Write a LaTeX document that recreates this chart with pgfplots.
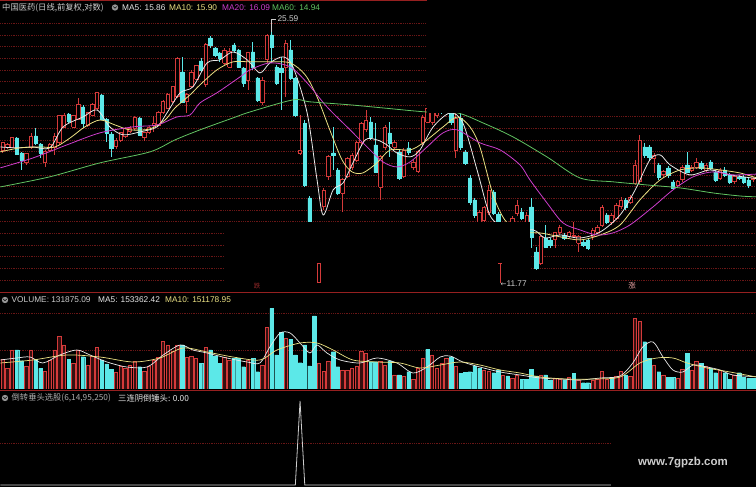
\documentclass[border=0pt]{standalone}
\usepackage{fontspec}
\setmainfont{Liberation Sans}
\newfontfamily\cjk{Noto Sans CJK SC}
\newfontfamily\dejavu{DejaVu Sans}
\usepackage{pgfplots}
\usepackage{pgfplotstable}
\pgfplotsset{compat=1.18}

\definecolor{upred}{RGB}{212,58,58}
\definecolor{downcyan}{RGB}{92,232,232}
\definecolor{mafive}{RGB}{232,232,232}
\definecolor{maten}{RGB}{236,226,132}
\definecolor{matwenty}{RGB}{205,62,205}
\definecolor{masixty}{RGB}{98,196,98}
\definecolor{gridred}{RGB}{105,22,22}
\definecolor{sepred}{RGB}{150,32,32}
\definecolor{ttlgray}{RGB}{205,205,205}
\definecolor{icongray}{RGB}{150,150,150}

\newcommand\tsz{\fontsize{8.3}{10}\selectfont}

% daily bars: open, high, low, close
\pgfplotstableread{
i o h l c
0 17.41 17.87 17.24 17.82
1 17.58 17.82 17.47 17.70
2 17.58 18.17 17.53 18.11
3 18.11 18.17 17.13 17.19
4 17.24 17.30 16.31 16.85
5 16.69 17.24 16.58 17.19
6 17.53 18.41 17.47 18.17
7 18.23 18.71 17.70 17.82
8 17.76 17.82 16.96 17.24
9 16.74 17.41 16.47 17.30
10 17.41 17.82 17.30 17.70
11 17.58 18.41 17.13 18.17
12 17.82 19.52 17.70 19.46
13 18.77 19.65 18.71 19.52
14 19.58 19.65 19.01 19.14
15 18.77 19.52 18.71 19.46
16 19.26 20.64 19.20 20.17
17 20.04 20.17 18.71 19.01
18 18.89 19.71 18.77 19.65
19 19.52 20.30 19.46 20.17
20 19.97 21.05 19.84 20.98
21 20.84 20.91 19.20 19.26
22 19.26 19.33 17.87 18.41
23 18.35 18.47 17.02 17.53
24 17.64 18.11 17.47 17.99
25 17.99 18.47 17.87 18.41
26 18.17 18.77 18.11 18.71
27 18.47 18.83 18.41 18.71
28 18.71 19.46 18.59 19.39
29 19.33 19.39 18.23 18.29
30 18.11 18.47 17.93 18.41
31 18.41 18.83 18.35 18.77
32 18.89 19.46 18.47 19.01
33 18.89 19.78 18.83 19.71
34 19.65 20.50 19.58 20.37
35 19.97 20.98 19.91 20.84
36 20.37 21.46 20.30 21.39
37 20.71 23.59 20.64 23.51
38 22.46 23.59 20.30 20.37
39 20.37 20.98 19.65 20.84
40 21.39 22.61 21.32 22.46
41 21.95 22.98 21.88 22.91
42 23.28 23.51 22.46 22.61
43 21.53 24.69 21.39 24.53
44 25.09 25.26 24.29 24.53
45 24.29 24.37 23.59 23.74
46 23.90 23.97 23.21 23.51
47 23.13 24.29 22.98 24.13
48 22.83 24.29 22.76 24.05
49 24.53 24.69 23.97 24.13
50 24.13 24.21 22.76 22.83
51 22.76 22.83 21.39 21.67
52 21.88 23.97 21.18 23.90
53 23.97 24.77 22.61 22.83
54 22.03 22.10 20.37 20.50
55 20.30 22.10 20.17 21.88
56 23.36 25.42 23.13 25.34
57 25.34 25.59 23.13 24.37
58 22.83 22.98 21.53 21.67
59 22.76 23.59 19.84 22.46
60 22.83 24.93 20.71 24.69
61 24.13 24.93 21.88 22.03
62 22.03 22.10 19.39 19.52
63 17.24 19.52 17.13 17.41
64 19.01 19.20 15.43 15.53
65 14.89 14.98 13.63 13.76
66 13.50 13.59 12.56 12.77
67 12.77 13.41 12.56 13.32
68 14.46 15.38 14.31 15.28
69 15.95 17.13 15.79 17.02
70 17.24 18.77 16.31 17.13
71 16.31 16.42 15.03 15.13
72 15.13 15.89 14.22 15.79
73 15.95 17.02 15.89 16.96
74 16.47 17.24 16.31 17.13
75 16.85 17.93 16.74 17.82
76 17.82 19.08 17.70 19.01
77 18.59 19.84 18.47 19.20
78 19.08 19.39 17.99 18.17
79 17.70 19.01 16.15 16.21
80 15.43 17.13 14.79 17.02
81 17.53 18.89 17.41 18.77
82 18.41 19.08 17.02 17.82
83 17.58 17.99 17.41 17.82
84 17.30 17.41 15.79 15.89
85 15.95 17.53 15.89 17.41
86 17.53 17.87 17.13 17.30
87 16.42 16.85 16.31 16.74
88 16.21 17.41 16.15 17.30
89 17.82 19.52 17.70 19.39
90 19.08 20.17 19.01 19.97
91 19.08 19.84 18.89 19.65
92 19.52 20.50 19.33 20.17
93 20.37 20.64 19.58 19.71
94 19.84 20.77 19.65 20.50
95 19.71 19.97 18.89 19.08
96 17.41 19.65 16.96 19.33
97 19.33 19.65 17.41 17.58
98 17.30 17.41 16.58 16.69
99 15.89 16.05 14.55 14.69
100 14.79 14.89 13.94 14.08
101 13.76 14.31 13.67 14.22
102 13.85 14.50 13.76 14.41
103 14.22 15.53 14.08 15.28
104 15.18 15.28 14.08 14.17
105 14.13 14.22 13.41 13.50
106 13.59 13.67 12.98 13.06
107 13.15 13.59 13.06 13.50
108 13.59 14.03 13.50 13.94
109 14.17 14.79 14.03 14.55
110 14.22 14.41 13.85 13.94
111 13.76 14.22 13.63 14.08
112 14.46 14.89 12.64 13.11
113 12.48 12.69 11.77 11.85
114 12.04 13.19 11.96 13.11
115 13.06 13.63 12.64 12.69
116 12.98 13.06 12.64 12.77
117 12.98 13.32 12.64 13.28
118 13.32 13.63 13.19 13.54
119 13.19 13.28 12.98 13.06
120 13.11 13.37 13.06 13.28
121 13.11 13.76 13.06 13.19
122 12.85 13.19 12.48 13.11
123 12.90 12.98 12.69 12.77
124 12.98 13.06 12.56 12.64
125 13.11 13.50 12.98 13.41
126 13.32 13.63 13.23 13.54
127 13.63 14.55 13.54 14.41
128 14.08 14.17 13.67 13.76
129 13.76 14.17 13.63 14.08
130 13.94 14.65 13.85 14.55
131 14.46 14.93 14.36 14.79
132 14.79 14.89 14.31 14.46
133 14.69 15.03 14.60 14.93
134 15.63 16.85 15.53 16.58
135 15.69 18.29 15.58 17.99
136 17.58 17.82 16.96 17.13
137 17.58 17.70 16.85 17.02
138 16.96 17.24 16.15 17.13
139 16.58 16.69 15.79 15.95
140 16.05 16.31 15.89 16.21
141 16.42 16.53 15.89 16.05
142 15.69 15.79 15.28 15.38
143 15.53 15.79 15.38 15.69
144 15.79 16.58 15.69 16.47
145 16.58 17.30 16.15 16.21
146 16.31 16.58 16.21 16.47
147 16.47 16.96 16.36 16.74
148 16.69 16.80 16.31 16.42
149 16.31 16.69 16.21 16.58
150 16.74 16.85 16.31 16.42
151 16.21 16.31 15.69 15.79
152 15.89 16.42 15.79 16.31
153 16.31 16.47 15.95 16.05
154 16.05 16.15 15.58 15.69
155 15.69 16.05 15.58 15.95
156 15.95 16.05 15.79 15.89
157 15.95 16.05 15.58 15.69
158 15.79 15.89 15.38 15.53
159 15.79 15.95 15.69 15.89
}\candles

% daily volume, u = 1 for a rising day
\pgfplotstableread{
i v u
0 371000 1
1 259000 1
2 488000 1
3 488000 0
4 354000 0
5 279000 1
6 488000 1
7 371000 0
8 259000 0
9 216000 1
10 363000 1
11 488000 1
12 654000 1
13 550000 1
14 371000 0
15 321000 1
16 488000 1
17 404000 0
18 300000 1
19 404000 1
20 521000 1
21 363000 0
22 313000 0
23 246000 0
24 204000 1
25 279000 1
26 259000 1
27 300000 1
28 341000 1
29 279000 0
30 216000 1
31 279000 1
32 363000 1
33 396000 1
34 591000 1
35 550000 1
36 466000 1
37 550000 1
38 550000 0
39 396000 1
40 404000 1
41 384000 1
42 321000 0
43 521000 1
44 488000 0
45 413000 0
46 321000 0
47 396000 1
48 354000 1
49 384000 0
50 384000 0
51 279000 0
52 363000 1
53 384000 0
54 216000 0
55 300000 1
56 771000 1
57 1009000 0
58 425000 0
59 709000 0
60 634000 1
61 621000 0
62 425000 0
63 329000 0
64 550000 0
65 288000 0
66 913000 0
67 321000 1
68 216000 1
69 341000 1
70 466000 0
71 279000 0
72 238000 1
73 238000 1
74 259000 1
75 279000 1
76 466000 1
77 446000 1
78 341000 0
79 341000 0
80 341000 1
81 300000 1
82 350000 0
83 175000 1
84 175000 0
85 163000 1
86 216000 0
87 121000 1
88 259000 1
89 384000 1
90 496000 0
91 425000 1
92 259000 1
93 321000 1
94 384000 1
95 404000 0
96 279000 1
97 196000 0
98 209000 0
99 216000 0
100 288000 0
101 259000 0
102 238000 1
103 216000 1
104 204000 0
105 238000 0
106 175000 1
107 163000 0
108 134000 1
109 175000 1
110 121000 0
111 121000 0
112 246000 0
113 163000 0
114 175000 1
115 175000 0
116 113000 0
117 134000 1
118 121000 1
119 113000 0
120 146000 1
121 196000 0
122 104000 1
123 79000 0
124 79000 0
125 113000 1
126 121000 1
127 216000 1
128 121000 1
129 146000 0
130 163000 1
131 216000 1
132 175000 0
133 154000 1
134 884000 1
135 841000 1
136 591000 0
137 384000 0
138 300000 1
139 216000 0
140 175000 1
141 146000 0
142 146000 0
143 134000 1
144 246000 1
145 446000 0
146 238000 1
147 341000 1
148 321000 0
149 279000 1
150 259000 0
151 204000 0
152 238000 1
153 204000 0
154 121000 0
155 175000 1
156 204000 0
157 146000 0
158 134000 0
159 131875 0
}\volumes

\pgfplotsset{
  panel/.style={anchor=south west, scale only axis, width=756pt,
    xmin=-0.57, xmax=159.6, hide axis, clip=true, no markers},
  candleup wick/.style={upred, line width=0.8pt},
  candleup body/.style={draw=upred, fill=black, line width=0.8pt, line join=miter},
  candledown wick/.style={downcyan, line width=0.8pt},
  candledown body/.style={draw=downcyan, fill=downcyan, line width=0.4pt, line join=miter},
}
\tikzset{gridline/.style={gridred, line width=0.6pt, dash pattern=on 0.6pt off 1.2pt}}

\begin{document}
\begin{tikzpicture}[x=1pt,y=1pt]
\useasboundingbox (0,0) rectangle (756,487);
\fill[black] (0,0) rectangle (756,487);

% dotted horizontal rules
\foreach \g in {23.3,35,46.6,58.3,70,81.6,93.3,105,116.6,128.3,140,151.6,163.3,175,186.6,198.3,210,221.6,233.3,245,256.6,268.3,280}
  {\draw[gridline] (0,{487-\g}) -- (756,{487-\g});}
\foreach \g in {313,350}
  {\draw[gridline] (0,{487-\g}) -- (756,{487-\g});}
\draw[gridline] (0,{487-443}) -- (756,{487-443});

% ---------- price panel (log scale) ----------
\begin{axis}[panel, at={(0pt,195pt)}, height=290pt, ymode=log, ymin=10.95, ymax=28.22]
\pgfplotsforeachungrouped \k in {0,...,159}{%
  \pgfplotstablegetelem{\k}{o}\of\candles\let\vo\pgfplotsretval
  \pgfplotstablegetelem{\k}{h}\of\candles\let\vh\pgfplotsretval
  \pgfplotstablegetelem{\k}{l}\of\candles\let\vl\pgfplotsretval
  \pgfplotstablegetelem{\k}{c}\of\candles\let\vc\pgfplotsretval
  \pgfmathsetmacro\xl{\k-0.36}\pgfmathsetmacro\xr{\k+0.36}%
  \ifdim\vc pt<\vo pt \def\cstyle{candledown}\else\def\cstyle{candleup}\fi
  \edef\temp{%
    \noexpand\addplot[\cstyle\space wick] coordinates {(\k,\vl) (\k,\vh)};
    \noexpand\addplot[\cstyle\space body] coordinates {(\xl,\vo) (\xr,\vo) (\xr,\vc) (\xl,\vc) (\xl,\vo)};}%
  \temp
}
% MA5
\addplot[mafive, line width=0.8pt, smooth] coordinates {(-0.5,17.58) (3,17.53) (6.4,17.58) (10,17.53) (12.8,18.77) (17,19.39) (20,19.84) (22.7,18.77) (25.5,18.29) (29.1,18.47) (32.7,18.77) (34.8,19.65) (37.6,20.98) (40.3,21.39) (43.3,23.13) (46,23.36) (48.8,23.97) (51.8,23.36) (54.5,22.39) (56.6,23.13) (59.4,23.59) (61.5,22.83) (64.5,19.65) (66.6,15.79) (67.9,14.08) (70,15.28) (72.1,15.63) (74.2,16.69) (76.8,17.99) (79.3,17.99) (81.4,17.70) (83.5,17.24) (86.3,17.02) (88.4,17.41) (91.2,18.77) (94.8,19.65) (97.5,19.01) (100.5,16.31) (102.6,14.46) (103.9,13.85) (107.5,13.32) (112.4,13.41) (114.9,13.06) (118.1,13.19) (122.3,13.06) (126.6,13.32) (130.8,14.08) (134,15.28) (137.1,16.85) (139.3,17.13) (141.4,16.58) (145.6,16.05) (149.9,16.31) (154.1,16.05) (159.6,15.86)};
% MA10
\addplot[maten, line width=0.8pt, smooth] coordinates {(-0.5,17.30) (3.7,17.53) (7.9,17.58) (11.1,17.58) (14.3,18.11) (17.4,18.77) (20.6,19.20) (23.8,18.89) (27,18.59) (31.2,18.65) (34.4,19.20) (36.5,19.97) (39.7,20.84) (41.8,21.53) (45.4,22.61) (48.8,23.21) (52.4,23.21) (56.6,23.21) (60.9,23.13) (64.1,22.24) (66.6,20.71) (69.3,18.59) (71.9,16.85) (74,16.21) (76.3,16.15) (79.3,16.69) (82.1,17.41) (86.3,17.41) (89.1,17.82) (93.3,18.77) (96.3,19.39) (99,18.77) (101.1,17.58) (103.9,15.03) (106.4,13.85) (109.6,13.32) (113.8,13.28) (118.1,13.11) (122.3,12.98) (126.6,13.19) (130.8,13.63) (135,14.79) (139.3,15.79) (143.5,16.31) (147.7,16.42) (152,16.31) (156.2,16.15) (159.6,15.90)};
% MA20
\addplot[matwenty, line width=0.8pt, smooth] coordinates {(-0.5,16.42) (6.4,16.96) (13.6,17.70) (20.6,18.41) (27.6,18.77) (32.7,18.89) (36.9,19.39) (39.7,19.52) (41.8,20.30) (45.4,20.98) (50.3,22.10) (52.4,22.61) (56.6,23.13) (60.9,22.83) (64.5,21.67) (68.7,20.04) (73.6,18.59) (77.2,17.58) (80.6,16.74) (83.5,16.47) (86.3,16.74) (89.9,17.58) (93.3,18.41) (96.3,18.59) (101.1,17.82) (105.4,17.41) (109.6,16.58) (111.7,15.79) (115.3,14.65) (118.7,13.72) (122.3,13.41) (125.9,13.19) (129.3,13.28) (132.9,13.63) (137.8,14.46) (142,15.28) (146.3,15.95) (150.5,16.21) (154.7,16.05) (159.6,16.09)};
% MA60
\addplot[masixty, line width=0.8pt, smooth] coordinates {(-0.5,15.43) (10,15.95) (20.6,16.69) (31.2,17.30) (36.5,17.99) (41.8,18.59) (48.8,19.33) (52.4,19.71) (61.5,20.50) (65.1,20.37) (73.6,20.17) (80.6,19.97) (89.7,19.71) (96.3,19.65) (101.8,19.01) (108.1,18.17) (115.3,17.02) (122.3,15.89) (129.3,15.69) (136.5,15.53) (143.5,15.38) (150.5,15.13) (156.2,14.98) (159.6,14.94)};
% highest price
\coordinate (hi) at (axis cs:57,25.59);
\end{axis}
\draw[ttlgray, line width=0.6pt] (hi) -- ([yshift=13pt]hi) -- ([yshift=13pt,xshift=4pt]hi)
  node[right, inner sep=1.5pt, font=\tsz, text=ttlgray] {25.59};

% masked areas of the price panel
\fill[black] (427,374) rectangle (756,487);
\fill[black] (225,196) rectangle (530,265);
% lowest price marker
\draw[upred, line width=0.8pt] (498,224) -- (502,224) (500,224) -- (500,204);
\node[anchor=west, inner sep=0, text=ttlgray] at (500.5,203) {\tsz{\dejavu\fontsize{7}{8}\selectfont ←}11.77};
\draw[upred, line width=0.7pt] (317.5,205) rectangle (320.5,224);
\node[text=upred!70!black, inner sep=0] at (257,200.5) {\cjk\fontsize{6.5}{7}\selectfont 跌};
\node[text=upred!45!white, inner sep=0] at (632,201) {\cjk\fontsize{7.5}{8}\selectfont 涨};

% ---------- volume panel ----------
\begin{axis}[panel, at={(0pt,98pt)}, height=96pt, ymin=0, ymax=1200000]
\addplot[ybar, bar width=3.3pt, bar shift=0pt, draw=upred, fill=upred!25!black, line width=0.8pt,
  restrict expr to domain={\thisrow{u}}{0.5:1.5}] table[x=i, y=v] {\volumes};
\addplot[ybar, bar width=3.5pt, bar shift=0pt, draw=downcyan, fill=downcyan, line width=0.2pt,
  restrict expr to domain={\thisrow{u}}{-0.5:0.5}] table[x=i, y=v] {\volumes};
\addplot[mafive, line width=0.7pt, smooth] coordinates {(-0.5,362500) (3,387500) (5.8,400000) (8.5,325000) (12.1,425000) (15.7,487500) (18.5,425000) (22.1,337500) (26.3,275000) (30.6,275000) (34,425000) (37.6,550000) (40.3,487500) (43.3,450000) (47.5,387500) (51.8,337500) (54.5,325000) (56.6,525000) (58.8,700000) (60.9,700000) (63,575000) (65.1,450000) (66.6,550000) (68.7,450000) (71.5,362500) (75.7,325000) (79.3,387500) (83.5,325000) (86.9,200000) (89.9,275000) (92.7,400000) (94.8,412500) (97.5,337500) (101.1,275000) (105.4,212500) (109.6,175000) (113.8,137500) (118.1,125000) (122.3,112500) (126.6,137500) (130.8,162500) (133.5,325000) (135.6,525000) (137.8,587500) (139.9,400000) (142,237500) (144.1,212500) (146.3,300000) (149.2,275000) (152,237500) (154.7,175000) (159.6,153362)};
\addplot[maten, line width=0.7pt, smooth] coordinates {(-0.5,325000) (6.4,362500) (13.6,425000) (20.6,400000) (27.6,337500) (33.3,387500) (38.2,512500) (43.3,462500) (48.8,400000) (54.5,362500) (58.1,487500) (63,575000) (66.6,575000) (70,487500) (74.2,362500) (79.3,337500) (84.2,325000) (88.4,262500) (92.7,300000) (96.9,337500) (101.1,300000) (105.4,237500) (109.6,200000) (113.8,150000) (119.5,125000) (125.1,125000) (130.8,150000) (135,325000) (138.6,387500) (142,387500) (145,325000) (149.2,262500) (154.1,212500) (159.6,151179)};
\end{axis}

% ---------- signal panel ----------
\begin{axis}[panel, at={(0pt,0pt)}, height=95pt, ymin=-0.0238, ymax=1.107]
\addplot[ttlgray, line width=0.8pt] coordinates {(-0.5,0) (62,0) (63,1) (64,0) (159.6,0)};
\end{axis}

% watermark
\fill[black] (611,0) rectangle (756,82);
\node[text=ttlgray, inner sep=0, font=\fontsize{11.5}{13}\selectfont\bfseries] at (683,24) {www.7gpzb.com};

% panel separators
\draw[sepred, line width=1.2pt] (0,486.2) -- (427,486.2);
\draw[sepred, line width=1.2pt] (0,194.3) -- (756,194.3);
\draw[sepred, line width=1.2pt] (0,96.5) -- (756,96.5);

% headers
\node[anchor=west, inner sep=0, text=ttlgray] at (2,479.5) {\cjk\tsz 中国医药(日线,前复权,对数)};
\fill[icongray] (115,479.5) circle (3.2);
\draw[black, line width=0.6pt] (113.4,480.4) -- (115,478.8) -- (116.6,480.4);
\node[anchor=west, inner sep=0, text=mafive] at (122,479.5) {\tsz MA5: 15.86};
\node[anchor=west, inner sep=0, text=maten] at (169,479.5) {\tsz MA10: 15.90};
\node[anchor=west, inner sep=0, text=matwenty] at (222,479.5) {\tsz MA20: 16.09};
\node[anchor=west, inner sep=0, text=masixty] at (272,479.5) {\tsz MA60: 14.94};

\fill[icongray] (5,187) circle (3.2);
\draw[black, line width=0.6pt] (3.4,187.9) -- (5,186.3) -- (6.6,187.9);
\node[anchor=west, inner sep=0, text=ttlgray] at (11.5,187) {\tsz VOLUME: 131875.09};
\node[anchor=west, inner sep=0, text=mafive] at (98,187) {\tsz MA5: 153362.42};
\node[anchor=west, inner sep=0, text=maten] at (165,187) {\tsz MA10: 151178.95};

\fill[icongray] (5,89) circle (3.2);
\draw[black, line width=0.6pt] (3.4,89.9) -- (5,88.3) -- (6.6,89.9);
\node[anchor=west, inner sep=0, text=icongray!80!white] at (11.5,89) {\cjk\tsz 倒转垂头选股(6,14,95,250)};
\node[anchor=west, inner sep=0, text=mafive] at (118,89) {\cjk\tsz 三连阴倒锤头: 0.00};
\end{tikzpicture}
\end{document}
